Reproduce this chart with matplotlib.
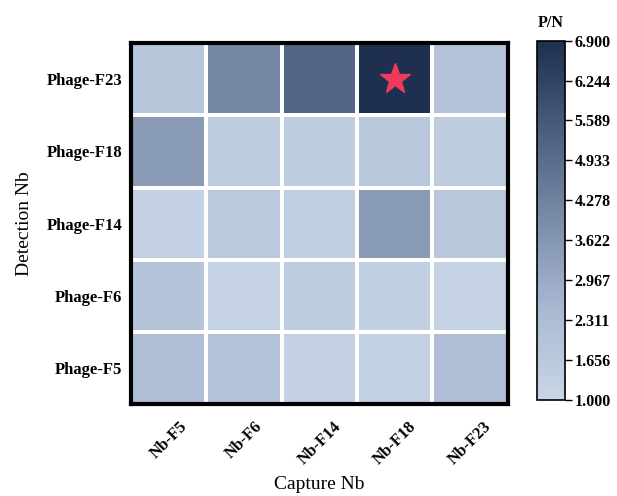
import numpy as np
import matplotlib
matplotlib.use("Agg")
import matplotlib.pyplot as plt
from matplotlib.colors import LinearSegmentedColormap

capture = ["Nb-F5", "Nb-F6", "Nb-F14", "Nb-F18", "Nb-F23"]
detection = ["Phage-F23", "Phage-F18", "Phage-F14", "Phage-F6", "Phage-F5"]
# rows top->bottom follow `detection`
pn_f23 = [1.85, 4.10, 5.20, 6.90, 1.90]
pn_f18 = [3.50, 1.50, 1.45, 1.75, 1.45]
pn_f14 = [1.25, 1.65, 1.35, 3.50, 1.75]
pn_f6 = [1.90, 1.20, 1.50, 1.35, 1.20]
pn_f5 = [2.20, 2.00, 1.25, 1.30, 2.20]
vmin, vmax = 1.0, 6.9
star_cell = ("Nb-F18", "Phage-F23")

data = np.array([pn_f23, pn_f18, pn_f14, pn_f6, pn_f5])

plt.rcParams['font.family'] = ['Liberation Serif', 'DejaVu Serif']
cmap = LinearSegmentedColormap.from_list(
    "pn", ["#c9d6e7", "#a9b9d2", "#7b8ca8", "#4b5e7f", "#1e2f4f"])

fig = plt.figure(figsize=(6.17, 4.96), dpi=100)
ax = fig.add_axes([0.212, 0.185, 0.611, 0.728])
nr, nc = data.shape
X, Y = np.meshgrid(np.arange(nc + 1), np.arange(nr + 1))
mesh = ax.pcolormesh(X, Y, data, cmap=cmap, vmin=vmin, vmax=vmax,
                     edgecolors="white", linewidth=2.8)
ax.set_xlim(0, nc)
ax.set_ylim(nr, 0)
ax.set_xticks(np.arange(nc) + 0.5)
ax.set_xticklabels(capture, rotation=45, ha="center",
                   fontweight="bold", fontsize=12)
ax.set_yticks(np.arange(nr) + 0.5)
ax.set_yticklabels(detection, fontweight="bold", fontsize=12)
ax.tick_params(length=0)
ax.tick_params(axis="y", pad=6)
ax.tick_params(axis="x", pad=10)
for s in ax.spines.values():
    s.set_linewidth(3)
    s.set_color("black")
ax.set_xlabel("Capture Nb", fontsize=14, labelpad=6)
ax.set_ylabel("Detection Nb", fontsize=14, labelpad=10)

sx = capture.index(star_cell[0]) + 0.5
sy = detection.index(star_cell[1]) + 0.5
ax.plot(sx, sy, marker="*", markersize=23, color="#f03a5a",
        markeredgecolor="#f03a5a", linestyle="none")

cax = fig.add_axes([0.870, 0.194, 0.045, 0.724])
cb = fig.colorbar(mesh, cax=cax)
cb.set_ticks(np.linspace(vmin, vmax, 10))
cb.set_ticklabels([f"{v:.3f}" for v in np.linspace(vmin, vmax, 10)])
for t in cax.get_yticklabels():
    t.set_fontweight("bold")
    t.set_fontsize(11.5)
cax.tick_params(length=5, width=1, pad=2)
cb.outline.set_linewidth(1.2)
cax.set_title("P/N", fontweight="bold", fontsize=11.5, pad=10)

fig.savefig("out.png", dpi=100)
